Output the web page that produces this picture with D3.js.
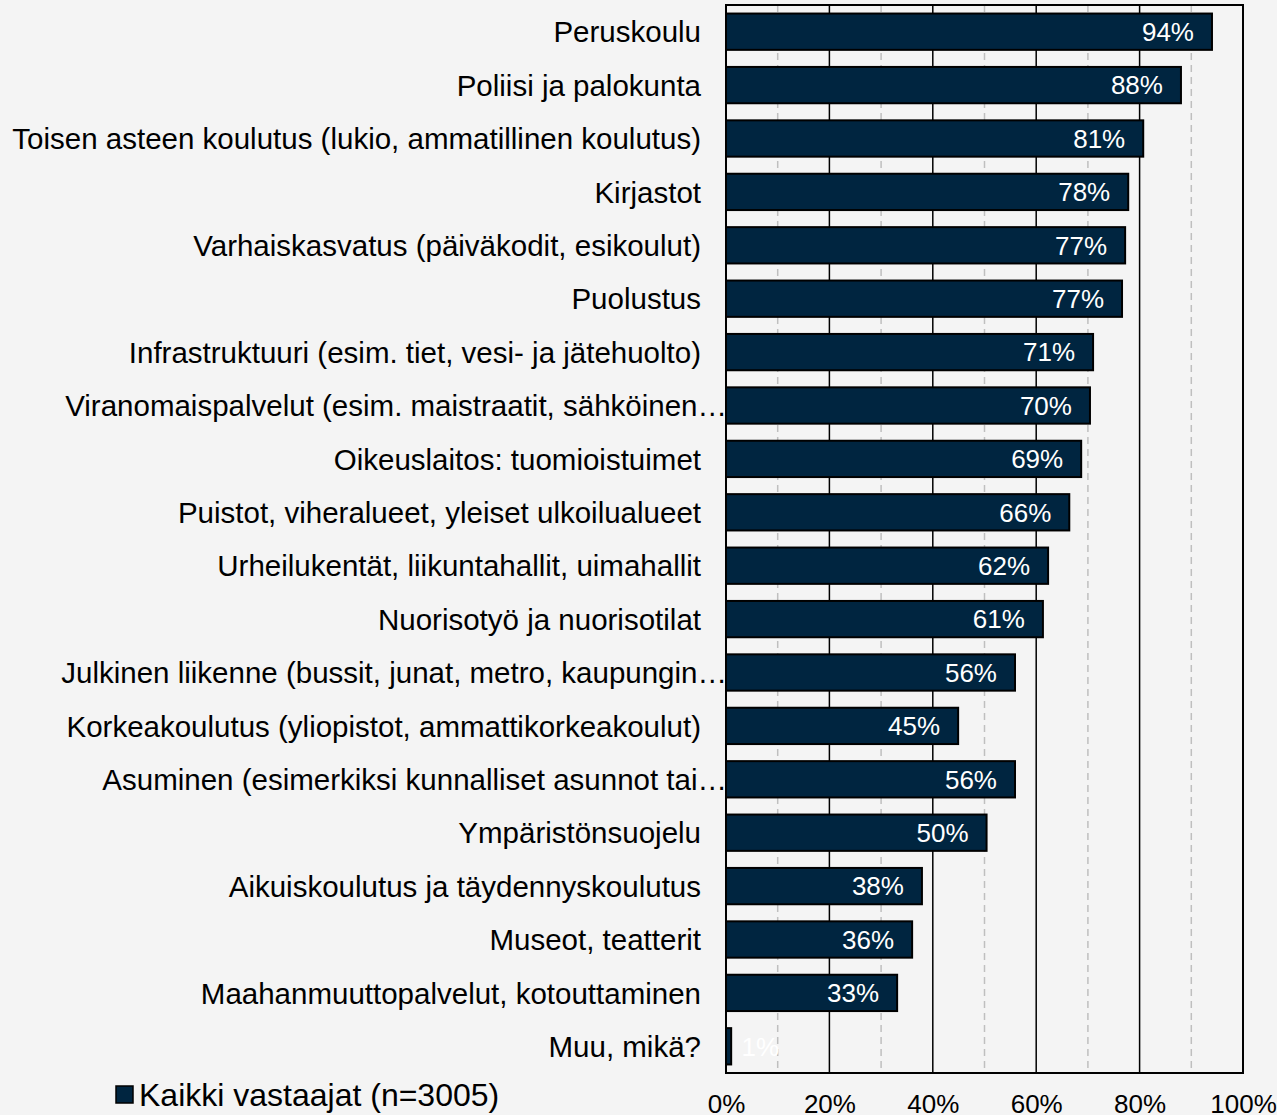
<!DOCTYPE html>
<html>
<head>
<meta charset="utf-8">
<script src="https://cdn.jsdelivr.net/npm/d3@7"></script>
<style>
  body { margin: 0; background: #f4f4f4; }
  svg { display: block; font-family: "Liberation Sans", Arial, sans-serif; }
</style>
</head>
<body>
<svg id="chart"></svg>
<script>
const categories = [
  "Peruskoulu",
  "Poliisi ja palokunta",
  "Toisen asteen koulutus (lukio, ammatillinen koulutus)",
  "Kirjastot",
  "Varhaiskasvatus (päiväkodit, esikoulut)",
  "Puolustus",
  "Infrastruktuuri (esim. tiet, vesi- ja jätehuolto)",
  "Viranomaispalvelut (esim. maistraatit, sähköinen…",
  "Oikeuslaitos: tuomioistuimet",
  "Puistot, viheralueet, yleiset ulkoilualueet",
  "Urheilukentät, liikuntahallit, uimahallit",
  "Nuorisotyö ja nuorisotilat",
  "Julkinen liikenne (bussit, junat, metro, kaupungin…",
  "Korkeakoulutus (yliopistot, ammattikorkeakoulut)",
  "Asuminen (esimerkiksi kunnalliset asunnot tai…",
  "Ympäristönsuojelu",
  "Aikuiskoulutus ja täydennyskoulutus",
  "Museot, teatterit",
  "Maahanmuuttopalvelut, kotouttaminen",
  "Muu, mikä?"
];
const values = [94, 88, 80.7, 77.8, 77.2, 76.6, 71, 70.4, 68.7, 66.4, 62.3, 61.3, 55.9, 44.9, 55.9, 50.4, 37.9, 36, 33.1, 1];
const seriesName = "Kaikki vastaajat (n=3005)";
const tickLabels = [0, 20, 40, 60, 80, 100];
const minorTicks = [10, 30, 50, 70, 90];

const width = 1277, height = 1115;
const margin = { top: 5, right: 34, bottom: 42, left: 726 };
const navy = "#002540";

const svg = d3.select("#chart").attr("width", width).attr("height", height);

svg.append("rect").attr("width", width).attr("height", height).attr("fill", "#f4f4f4");

const x = d3.scaleLinear().domain([0, 100]).range([margin.left, width - margin.right]);
const y = d3.scaleBand()
  .domain(categories)
  .range([margin.top, height - margin.bottom])
  .paddingInner(0.32)
  .paddingOuter(0.16);

// dashed minor gridlines
svg.append("g")
  .selectAll("line")
  .data(minorTicks)
  .join("line")
  .attr("x1", (d) => x(d)).attr("x2", (d) => x(d))
  .attr("y1", margin.top).attr("y2", height - margin.bottom)
  .attr("stroke", "#bfbfbf")
  .attr("stroke-width", 1.5)
  .attr("stroke-dasharray", "7,5");

// solid major gridlines
svg.append("g")
  .selectAll("line")
  .data(tickLabels.slice(1, -1))
  .join("line")
  .attr("x1", (d) => x(d)).attr("x2", (d) => x(d))
  .attr("y1", margin.top).attr("y2", height - margin.bottom)
  .attr("stroke", "#000")
  .attr("stroke-width", 1.5);

// bars
svg.append("g")
  .selectAll("rect")
  .data(values)
  .join("rect")
  .attr("x", x(0))
  .attr("y", (d, i) => y(categories[i]))
  .attr("width", (d) => x(d) - x(0))
  .attr("height", y.bandwidth())
  .attr("fill", navy)
  .attr("stroke", "#000")
  .attr("stroke-width", 2);

// plot border
svg.append("rect")
  .attr("x", x(0)).attr("y", margin.top)
  .attr("width", x(100) - x(0))
  .attr("height", height - margin.bottom - margin.top)
  .attr("fill", "none")
  .attr("stroke", "#000")
  .attr("stroke-width", 2);

// value labels
svg.append("g")
  .selectAll("text")
  .data(values)
  .join("text")
  .attr("x", (d) => Math.max(x(d) - 18, x(0) + 53))
  .attr("y", (d, i) => y(categories[i]) + y.bandwidth() / 2)
  .attr("dy", "0.36em")
  .attr("text-anchor", "end")
  .attr("fill", "#fff")
  .attr("font-size", 26)
  .text((d) => Math.round(d) + "%");

// category labels
svg.append("g")
  .selectAll("text")
  .data(categories)
  .join("text")
  .attr("x", (d) => d.endsWith("…") ? x(0) + 1 : x(0) - 25)
  .attr("y", (d) => y(d) + y.bandwidth() / 2)
  .attr("dy", "0.36em")
  .attr("text-anchor", "end")
  .attr("fill", "#000")
  .attr("font-size", 29.5)
  .text((d) => d);

// x axis
const xAxis = svg.append("g")
  .attr("transform", `translate(0,${height - margin.bottom})`)
  .call(d3.axisBottom(x).tickValues(tickLabels).tickSize(0).tickPadding(22).tickFormat((d) => d + "%"));
xAxis.select(".domain").remove();
xAxis.selectAll("text")
  .attr("font-size", 26)
  .attr("font-family", "'Liberation Sans', Arial, sans-serif")
  .attr("fill", "#000");

// legend
const legend = svg.append("g").attr("transform", "translate(116,1086)");
legend.append("rect")
  .attr("width", 17).attr("height", 17)
  .attr("fill", navy).attr("stroke", "#000").attr("stroke-width", 1.5);
legend.append("text")
  .attr("x", 23).attr("y", 8.5)
  .attr("dy", "0.36em")
  .attr("font-size", 32)
  .attr("fill", "#000")
  .text(seriesName);
</script>
</body>
</html>
